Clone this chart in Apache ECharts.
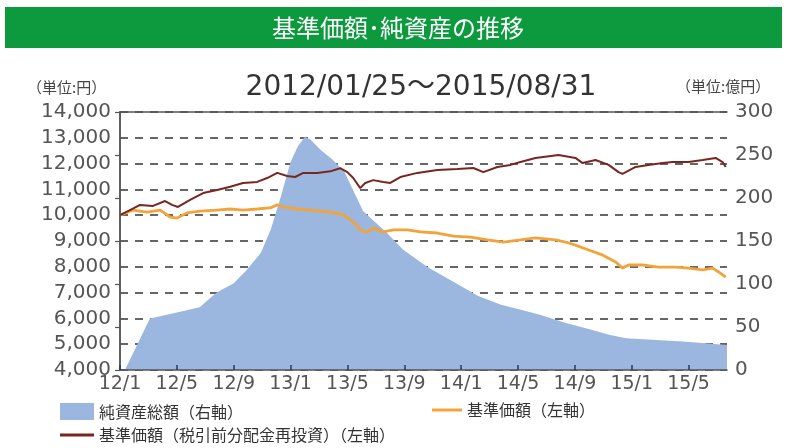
<!DOCTYPE html>
<html>
<head>
<meta charset="utf-8">
<script src="https://cdn.jsdelivr.net/npm/echarts@6/dist/echarts.min.js"></script>
<style>
html,body{margin:0;padding:0;background:#fff;}
#chart{width:786px;height:448px;}
</style>
</head>
<body>
<div id="chart"></div>
<script>
// x positions are months since 2012/01 (12/1 = 0)
const xTickLabels = ['12/1','12/5','12/9','13/1','13/5','13/9','14/1','14/5','14/9','15/1','15/5'];

// 純資産総額 (億円, right axis)
const areaMonths = [0.35, 2.1, 4.0, 5.6, 6.8, 8.0, 8.9, 9.9, 10.6, 11.3, 12.0, 12.5, 13.0, 13.4, 14.1, 15.0, 15.8, 16.4, 17.1, 17.8, 18.8, 19.9, 21.6, 23.2, 25.2, 26.8, 28.2, 29.6, 31.3, 33.1, 34.4, 35.6, 39.6, 42.7];
const netAssets  = [0, 60, 67, 73, 90, 101, 116, 136, 163, 201, 242, 260, 271, 268, 256, 244, 230, 209, 185, 174, 159, 140, 120, 105, 86, 76, 70, 64, 55, 47, 41, 37, 33, 29];

// 基準価額(税引前分配金再投資) (円, left axis)
const brownMonths = [0, 0.70, 1.41, 2.32, 3.17, 3.66, 4.08, 4.93, 5.85, 6.83, 7.75, 8.66, 9.65, 10.35, 11.06, 11.76, 12.32, 12.89, 13.87, 14.79, 15.49, 15.99, 16.41, 16.90, 17.25, 17.82, 18.52, 19.01, 19.72, 20.92, 22.32, 23.73, 24.86, 25.56, 26.55, 27.46, 28.17, 29.23, 30.85, 32.04, 32.54, 33.45, 34.37, 35.07, 35.35, 36.27, 37.18, 38.17, 38.87, 40.0, 40.99, 41.90, 42.39, 42.61];
const reinvestNav = [10000, 10200, 10400, 10360, 10550, 10400, 10320, 10590, 10860, 10980, 11100, 11250, 11290, 11440, 11640, 11520, 11480, 11640, 11640, 11700, 11820, 11670, 11440, 11050, 11250, 11360, 11290, 11250, 11480, 11640, 11750, 11790, 11830, 11670, 11870, 11950, 12060, 12220, 12330, 12220, 12020, 12140, 11950, 11670, 11600, 11870, 11950, 12020, 12060, 12060, 12140, 12220, 12060, 11870];

// 基準価額 (円, left axis)
const orangeMonths = [0, 0.92, 1.90, 2.82, 3.52, 4.01, 4.72, 5.63, 6.83, 7.75, 8.66, 9.65, 10.56, 11.06, 11.48, 12.46, 13.38, 14.79, 15.70, 16.41, 16.90, 17.39, 17.82, 18.52, 19.23, 20.21, 21.13, 22.32, 23.45, 24.65, 25.85, 26.97, 28.17, 29.23, 30.63, 31.34, 32.04, 32.96, 33.94, 34.86, 35.35, 35.77, 36.76, 37.89, 39.08, 40.0, 40.99, 41.69, 42.11, 42.61];
const nav = [10000, 10200, 10120, 10200, 9930, 9890, 10090, 10160, 10200, 10240, 10200, 10240, 10280, 10400, 10320, 10240, 10200, 10120, 10010, 9740, 9430, 9350, 9500, 9350, 9430, 9430, 9350, 9310, 9190, 9150, 9040, 8960, 9040, 9120, 9040, 8960, 8840, 8650, 8460, 8190, 7950, 8070, 8070, 7990, 7990, 7950, 7880, 7950, 7800, 7600];

const names = ['純資産総額（右軸）', '基準価額（左軸）', '基準価額（税引前分配金再投資）（左軸）'];
const NUM_FONT = 'DejaVu Sans, Noto Sans CJK JP';
const JP_FONT = 'Noto Sans CJK JP';

const zip = (xs, ys) => xs.map((x, i) => [x, ys[i]]);

const chart = echarts.init(document.getElementById('chart'), null, {renderer: 'canvas'});
chart.setOption({
  animation: false,
  backgroundColor: '#fff',
  graphic: [
    {type: 'rect', shape: {x: 5, y: 7, width: 777, height: 41}, style: {fill: '#0d9a3f'}, z: 0},
    {type: 'text', x: 398, y: 28, style: {text: '基準価額･純資産の推移', font: '24px "Noto Sans CJK JP"', fill: '#fff', textAlign: 'center', textVerticalAlign: 'middle'}, z: 1},
    {type: 'text', x: 421, y: 88, style: {text: '2012/01/25～2015/08/31', font: '28px "DejaVu Sans", "Noto Sans CJK JP"', fill: '#333', textAlign: 'center', textVerticalAlign: 'middle'}},
    {type: 'text', x: 27, y: 87, style: {text: '（単位:円）', font: '15px "Noto Sans CJK JP"', fill: '#444', textAlign: 'left', textVerticalAlign: 'middle'}},
    {type: 'text', x: 676, y: 86, style: {text: '（単位:億円）', font: '15px "Noto Sans CJK JP"', fill: '#444', textAlign: 'left', textVerticalAlign: 'middle'}}
  ],
  grid: {left: 120, right: 59, top: 112, bottom: 78},
  legend: [
    {data: [names[0]], left: 60, top: 403, padding: 0, icon: 'rect', itemWidth: 34, itemHeight: 17, textStyle: {fontFamily: JP_FONT, fontSize: 16, color: '#333'}},
    {data: [names[1]], left: 432, top: 402, padding: 0, icon: 'rect', itemWidth: 30, itemHeight: 3, textStyle: {fontFamily: JP_FONT, fontSize: 16, color: '#333'}},
    {data: [names[2]], left: 60, top: 427, padding: 0, icon: 'rect', itemWidth: 34, itemHeight: 3, textStyle: {fontFamily: JP_FONT, fontSize: 16, color: '#333'}}
  ],
  xAxis: [
    {
      type: 'value', min: 0, max: 42.7, interval: 4, z: 5, position: 'bottom',
      axisLine: {show: true, lineStyle: {color: '#555', width: 1.5}},
      axisTick: {show: true, inside: true, length: 5, lineStyle: {color: '#2b3a55', width: 1.5}},
      axisLabel: {
        showMaxLabel: false, margin: 5, fontFamily: NUM_FONT, fontSize: 19, color: '#555',
        formatter: v => { const k = Math.round(v / 4); return Math.abs(v - k * 4) < 1e-6 && xTickLabels[k] ? xTickLabels[k] : ''; }
      },
      splitLine: {show: false}
    },
    {
      type: 'value', min: 0, max: 42.7, position: 'top', z: 5,
      axisLine: {show: true, lineStyle: {color: '#555', width: 1.5}},
      axisTick: {show: false}, axisLabel: {show: false}, splitLine: {show: false}
    }
  ],
  yAxis: [
    {
      type: 'value', min: 4000, max: 14000, interval: 1000, position: 'left',
      axisLine: {show: true, lineStyle: {color: '#555', width: 1.5}},
      axisTick: {show: false},
      axisLabel: {margin: 9, fontFamily: NUM_FONT, fontSize: 20, color: '#555', formatter: v => v.toLocaleString('en-US')},
      splitLine: {show: true, lineStyle: {color: '#666', width: 2, type: [8, 7]}}
    },
    {
      type: 'value', min: 0, max: 300, interval: 50, position: 'right', z: 5,
      axisLine: {show: true, lineStyle: {color: '#555', width: 1.5}},
      axisTick: {show: true, inside: true, length: 5, lineStyle: {color: '#555', width: 1.2}},
      axisLabel: {margin: 8, fontFamily: NUM_FONT, fontSize: 20, color: '#555'},
      splitLine: {show: false}
    }
  ],
  series: [
    {
      name: names[0], type: 'line', yAxisIndex: 1, data: zip(areaMonths, netAssets),
      showSymbol: false, symbol: 'none', lineStyle: {width: 0, color: '#9bb6df'},
      itemStyle: {color: '#9bb6df'}, areaStyle: {color: '#9bb6df', opacity: 1}, z: 2
    },
    {
      name: names[1], type: 'line', yAxisIndex: 0, data: zip(orangeMonths, nav),
      showSymbol: false, symbol: 'none', lineStyle: {width: 2.8, color: '#f2a43a'}, itemStyle: {color: '#f2a43a'}, z: 3
    },
    {
      name: names[2], type: 'line', yAxisIndex: 0, data: zip(brownMonths, reinvestNav),
      showSymbol: false, symbol: 'none', lineStyle: {width: 2, color: '#772722'}, itemStyle: {color: '#772722'}, z: 4
    }
  ]
});
</script>
</body>
</html>
